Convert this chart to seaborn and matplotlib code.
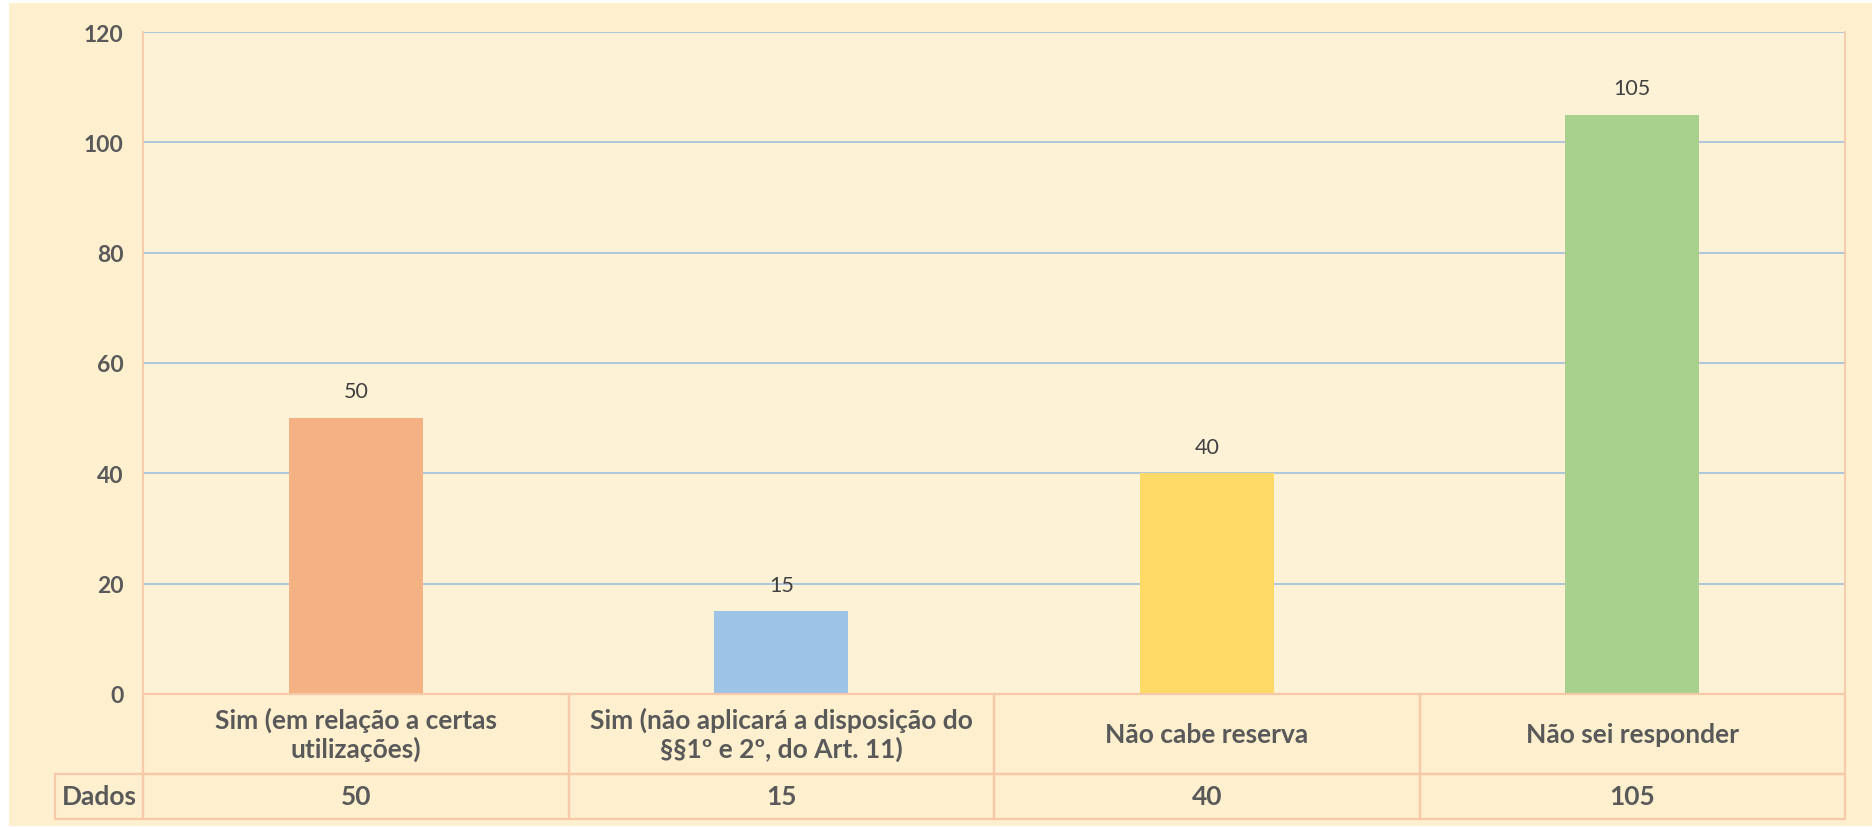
import numpy as np
import pandas as pd
import seaborn as sns
import matplotlib.pyplot as plt
import matplotlib.transforms as mtransforms
from matplotlib.patches import Rectangle

# dane z wykresu
categorias = [
    "Sim (em relação a certas\nutilizações)",
    "Sim (não aplicará a disposição do\n§§1º e 2º, do Art. 11)",
    "Não cabe reserva",
    "Não sei responder",
]
valores = [50, 15, 40, 105]
cores = ["#F4B183", "#9DC3E6", "#FFD966", "#A9D18E"]
rotulo_linha = "Dados"
yticks = [0, 20, 40, 60, 80, 100, 120]

fundo_fig = "#FEF0CE"
fundo_ax = "#FDF1D6"
cor_grade = "#A7C3DC"
cor_borda = "#F7C9A9"
cor_texto = "#595959"

sns.set_style("white")
plt.rcParams["font.family"] = ["Lato", "DejaVu Sans"]

df = pd.DataFrame({"categoria": categorias, "valor": valores})

fig = plt.figure(figsize=(18.72, 8.28), dpi=100)
fig.patch.set_facecolor("white")
# tło wykresu z cienką białą ramką jak w oryginale
fig.patches.append(Rectangle((9 / 1872, 1 / 828), 1 - 9 / 1872, 1 - 5 / 828, transform=fig.transFigure,
                             facecolor=fundo_fig, edgecolor="none", zorder=-10))

ax = fig.add_axes([143 / 1872, 133 / 828, 1702 / 1872, 662 / 828])
ax.set_facecolor(fundo_ax)

sns.barplot(data=df, x="categoria", y="valor", hue="categoria", palette=cores,
            width=0.315, legend=False, ax=ax, saturation=1, linewidth=0)

for cont in ax.containers:
    ax.bar_label(cont, padding=12, fontsize=15.5, color="#404040")

ax.set_ylim(0, 120)
ax.set_xlim(-0.5, len(categorias) - 0.5)
ax.set_yticks(yticks)
ax.set_yticklabels([str(t) for t in yticks], fontsize=16.5, fontweight="bold", color=cor_texto)
ax.tick_params(axis="y", length=0, pad=14)
ax.tick_params(axis="x", length=0, labelbottom=False)
ax.set_xlabel("")
ax.set_ylabel("")
ax.grid(axis="y", color=cor_grade, linewidth=1.3)
ax.set_axisbelow(True)

for lado in ["top", "bottom"]:
    ax.spines[lado].set_visible(False)
for lado in ["left", "right"]:
    ax.spines[lado].set_color(cor_borda)
    ax.spines[lado].set_linewidth(1.3)

# tabela de dados abaixo do eixo
trans = mtransforms.blended_transform_factory(ax.transData, ax.transAxes)
h_cat = 80 / 662
h_dados = 45 / 662
x_rot = -0.5 - 88 / 425.5

for i, (cat, val) in enumerate(zip(categorias, valores)):
    ax.add_patch(Rectangle((i - 0.5, -h_cat), 1, h_cat, transform=trans, clip_on=False,
                           facecolor="none", edgecolor=cor_borda, linewidth=1.6))
    ax.add_patch(Rectangle((i - 0.5, -h_cat - h_dados), 1, h_dados, transform=trans, clip_on=False,
                           facecolor="none", edgecolor=cor_borda, linewidth=1.6))
    ax.text(i, -h_cat / 2, cat, transform=trans, ha="center", va="center", fontsize=19,
            fontweight="bold", color=cor_texto, linespacing=1.2)
    ax.text(i, -h_cat - h_dados / 2, str(val), transform=trans, ha="center", va="center",
            fontsize=19, fontweight="bold", color=cor_texto)

ax.add_patch(Rectangle((x_rot, -h_cat - h_dados), -0.5 - x_rot, h_dados, transform=trans, clip_on=False,
                       facecolor="none", edgecolor=cor_borda, linewidth=1.6))
ax.text((x_rot - 0.5) / 2, -h_cat - h_dados / 2, rotulo_linha, transform=trans, ha="center", va="center",
        fontsize=19, fontweight="bold", color=cor_texto)

fig.savefig("out.png", dpi=100, facecolor="white")
